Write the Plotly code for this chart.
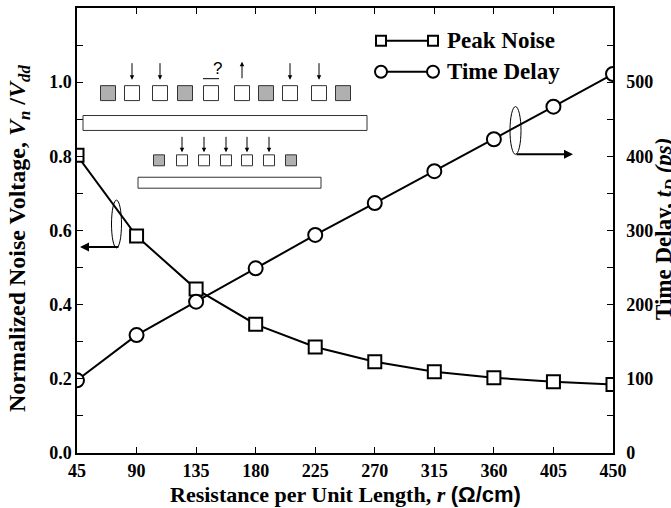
import plotly.graph_objects as go

# ---------------- data ----------------
resistance = [45, 90, 135, 180, 225, 270, 315, 360, 405, 450]
peak_noise = [0.803, 0.585, 0.442, 0.347, 0.286, 0.246, 0.219, 0.203, 0.192, 0.185]
time_delay = [98, 159, 204, 249, 294, 337, 380, 423, 467, 511]
x_ticks = [45, 90, 135, 180, 225, 270, 315, 360, 405, 450]

SERIF = "Liberation Serif, Times New Roman, serif"
W, H = 671, 508
L, R, T, B = 77, 613, 6, 453  # plot area in pixels


def px(x):
    return (x - L) / (R - L)


def py(y):
    return (B - y) / (B - T)


fig = go.Figure()
fig.add_trace(go.Scatter(
    x=resistance, y=peak_noise, mode="lines+markers", name="Peak Noise",
    line=dict(color="black", width=2),
    marker=dict(symbol="square", size=13, color="white",
                line=dict(color="black", width=2)),
    showlegend=False))
fig.add_trace(go.Scatter(
    x=resistance, y=time_delay, mode="lines+markers", name="Time Delay",
    yaxis="y2",
    line=dict(color="black", width=2),
    marker=dict(symbol="circle", size=14, color="white",
                line=dict(color="black", width=2)),
    showlegend=False))

shapes = []
annotations = []

# ---------- legend (drawn manually) ----------
for ly, sym, label in [(39, "square", "Peak Noise"), (70, "circle", "Time Delay")]:
    shapes.append(dict(type="line", xref="paper", yref="paper",
                       x0=px(381), x1=px(433), y0=py(ly), y1=py(ly),
                       line=dict(color="black", width=2)))
    for cx in (381, 433):
        s = 5 if sym == "square" else 6
        shapes.append(dict(type="rect" if sym == "square" else "circle",
                           xref="paper", yref="paper",
                           xsizemode="pixel", ysizemode="pixel",
                           xanchor=px(cx), yanchor=py(ly),
                           x0=-s, x1=s, y0=-s, y1=s,
                           fillcolor="white", line=dict(color="black", width=2)))
    annotations.append(dict(xref="paper", yref="paper", x=px(445), y=py(ly),
                            xanchor="left", yanchor="middle", showarrow=False,
                            text="<b>%s</b>" % label,
                            font=dict(family=SERIF, size=23, color="black")))

# ---------- inset diagram ----------
row1_x = [108, 132, 160, 185, 211, 242, 266, 290, 319, 343]
row1_gray = [True, False, False, True, False, False, True, False, False, True]
for cx, g in zip(row1_x, row1_gray):
    shapes.append(dict(type="rect", xref="paper", yref="paper",
                       x0=px(cx - 7.5), x1=px(cx + 7.5), y0=py(84), y1=py(99),
                       fillcolor="#b0b0b0" if g else "white",
                       line=dict(color="#333", width=1)))
shapes.append(dict(type="rect", xref="paper", yref="paper",
                   x0=px(83), x1=px(367), y0=py(114), y1=py(129),
                   fillcolor="white", line=dict(color="#333", width=1)))
row2_x = [159, 182, 204, 226, 247, 269, 291]
for i, cx in enumerate(row2_x):
    g = i in (0, 6)
    shapes.append(dict(type="rect", xref="paper", yref="paper",
                       x0=px(cx - 5.5), x1=px(cx + 5.5), y0=py(153.5), y1=py(164.5),
                       fillcolor="#b0b0b0" if g else "white",
                       line=dict(color="#333", width=1)))
shapes.append(dict(type="rect", xref="paper", yref="paper",
                   x0=px(138), x1=px(321), y0=py(176), y1=py(187),
                   fillcolor="white", line=dict(color="#333", width=1)))


def arrow(x0, y0, x1, y1, width=1, head=0.9):
    annotations.append(dict(xref="paper", yref="paper", axref="pixel", ayref="pixel",
                            x=px(x1), y=py(y1), ax=x0 - x1, ay=y0 - y1,
                            text="", showarrow=True, arrowhead=2, arrowsize=head,
                            arrowwidth=width, arrowcolor="black"))


for i in (1, 2, 7, 8):
    arrow(row1_x[i], 60, row1_x[i], 78)
arrow(row1_x[5], 78, row1_x[5], 60)
annotations.append(dict(xref="paper", yref="paper", x=px(row1_x[4]), y=py(67),
                        text="?", showarrow=False, yanchor="middle",
                        font=dict(family="Liberation Sans, Arial", size=17, color="black")))
shapes.append(dict(type="line", xref="paper", yref="paper",
                   x0=px(row1_x[4] - 8), x1=px(row1_x[4] + 8), y0=py(77), y1=py(77),
                   line=dict(color="black", width=1)))
for cx in row2_x[1:6]:
    arrow(cx, 134, cx, 151)

# ---------- ellipses and pointer arrows ----------
shapes.append(dict(type="circle", xref="paper", yref="paper",
                   x0=px(111.5), x1=px(121.5), y0=py(199), y1=py(247),
                   line=dict(color="black", width=1)))
arrow(120, 246, 80, 246, width=2, head=0.9)
shapes.append(dict(type="circle", xref="paper", yref="paper",
                   x0=px(510), x1=px(521), y0=py(105), y1=py(153),
                   line=dict(color="black", width=1)))
arrow(515, 153, 573, 153, width=2, head=0.9)

# ---------- axis titles ----------
annotations.append(dict(xref="paper", yref="paper", x=px(345), y=py(495),
                        showarrow=False, yanchor="middle",
                        text="<b>Resistance per Unit Length, <i>r</i> "
                             "<span style='font-family:Liberation Sans, Arial'>(Ω/cm)</span></b>",
                        font=dict(family=SERIF, size=22, color="black")))
annotations.append(dict(xref="paper", yref="paper", x=px(19), y=py(238),
                        showarrow=False, textangle=-90, xanchor="center", yanchor="middle",
                        text="<b>Normalized Noise Voltage, <i>V<sub>n</sub></i> /<i>V<sub>dd</sub></i></b>",
                        font=dict(family=SERIF, size=24, color="black")))
annotations.append(dict(xref="paper", yref="paper", x=px(665), y=py(228),
                        showarrow=False, textangle=-90, xanchor="center", yanchor="middle",
                        text="<b>Time Delay, <i>t<sub>D</sub></i> <i>(ps)</i></b>",
                        font=dict(family=SERIF, size=23, color="black")))

tickfont = dict(family=SERIF, size=18, color="black", weight="bold")
fig.update_layout(
    width=W, height=H,
    margin=dict(l=L, r=W - R, t=T, b=H - B, pad=0),
    paper_bgcolor="white", plot_bgcolor="white",
    xaxis=dict(range=[45, 450], tickvals=x_ticks, ticktext=[str(v) for v in x_ticks],
               ticks="inside", ticklen=6, tickcolor="black", tickwidth=1,
               ticklabelstandoff=1,
               showline=True, linecolor="black", linewidth=1.5, mirror="ticks",
               showgrid=False, zeroline=False, tickfont=tickfont),
    yaxis=dict(range=[0, 1.2], tickvals=[0, 0.2, 0.4, 0.6, 0.8, 1.0],
               tickformat=".1f", ticks="inside", ticklen=6, tickcolor="black",
               minor=dict(tickvals=[0.1, 0.3, 0.5, 0.7, 0.9, 1.1], ticks="inside",
                          ticklen=6, tickcolor="black"),
               showline=True, linecolor="black", linewidth=1.5,
               showgrid=False, zeroline=False, tickfont=tickfont),
    yaxis2=dict(range=[0, 600], overlaying="y", side="right",
                tickvals=[0, 100, 200, 300, 400, 500],
                ticks="inside", ticklen=6, tickcolor="black",
                ticklabelstandoff=8,
                minor=dict(tickvals=[50, 150, 250, 350, 450, 550], ticks="inside",
                           ticklen=6, tickcolor="black"),
                showline=True, linecolor="black", linewidth=1.5,
                showgrid=False, zeroline=False, tickfont=tickfont),
    shapes=shapes, annotations=annotations, showlegend=False,
)

fig.write_html("out.html")
